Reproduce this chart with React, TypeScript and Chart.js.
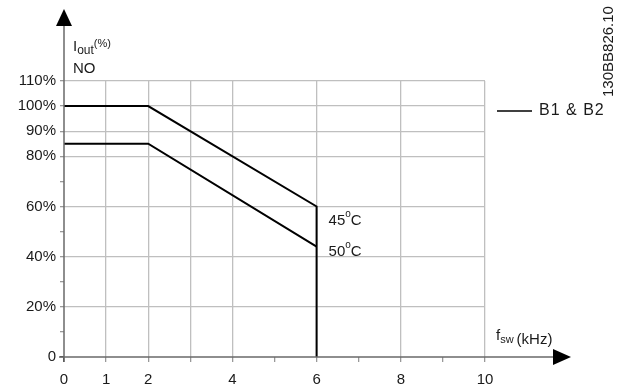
import React, { useEffect, useRef } from "react";
import { Chart, registerables } from "chart.js";

Chart.register(...registerables);

// ---- data ----
const freq45 = [0, 2, 6, 6];
const iout45 = [100, 100, 60, 0];
const freq50 = [0, 2, 6];
const iout50 = [85, 85, 44];

const xTickValues = [0, 1, 2, 3, 4, 5, 6, 7, 8, 9, 10];
const xTickLabels = ["0", "1", "2", "", "4", "", "6", "", "8", "", "10"];
const xGridValues = [1, 2, 3, 4, 6, 8, 10];

const yTickValues = [0, 10, 20, 30, 40, 50, 60, 70, 80, 90, 100, 110];
const yTickLabels = ["0", "", "20%", "", "40%", "", "60%", "", "80%", "90%", "100%", "110%"];
const yGridValues = [20, 40, 60, 80, 90, 100, 110];

const tempLabels = ["45", "50"];
const tempLabelAt = [55, 42.5];
const legendText = "B1 & B2";
const docId = "130BB826.10";

const FONT = "'Liberation Sans', Arial, sans-serif";
const TEXT = "#1a1a1a";
const GRID = "#bfbfbf";
const AXIS = "#6a6a6a";

const overlay = {
  id: "overlay",
  afterDraw(chart: any) {
    const { ctx, scales } = chart;
    const xs = scales.x;
    const ys = scales.y;
    const x0 = xs.getPixelForValue(0);
    const y0 = ys.getPixelForValue(0);
    ctx.save();
    // axes
    ctx.strokeStyle = AXIS;
    ctx.lineWidth = 1.5;
    ctx.beginPath();
    ctx.moveTo(x0, y0 + 5);
    ctx.lineTo(x0, 24);
    ctx.moveTo(x0 - 5, y0);
    ctx.lineTo(555, y0);
    ctx.stroke();
    // arrows
    ctx.fillStyle = "#000";
    ctx.beginPath();
    ctx.moveTo(x0, 9);
    ctx.lineTo(x0 - 8, 26);
    ctx.lineTo(x0 + 8, 26);
    ctx.closePath();
    ctx.fill();
    ctx.beginPath();
    ctx.moveTo(571, y0);
    ctx.lineTo(553, y0 - 8);
    ctx.lineTo(553, y0 + 8);
    ctx.closePath();
    ctx.fill();

    ctx.fillStyle = TEXT;
    ctx.textBaseline = "alphabetic";
    ctx.textAlign = "left";
    // y title
    let tx = x0 + 9;
    ctx.font = `15px ${FONT}`;
    ctx.fillText("I", tx, 51);
    tx += ctx.measureText("I").width;
    ctx.font = `12px ${FONT}`;
    ctx.fillText("out", tx, 54);
    tx += ctx.measureText("out").width;
    ctx.font = `11px ${FONT}`;
    ctx.fillText("(%)", tx, 47);
    ctx.font = `15px ${FONT}`;
    ctx.fillText("NO", x0 + 9, 73);

    // x title
    let fx = 496;
    ctx.font = `15px ${FONT}`;
    ctx.fillText("f", fx, 340);
    fx += ctx.measureText("f").width;
    ctx.font = `11px ${FONT}`;
    ctx.fillText("sw", fx, 343);
    fx += ctx.measureText("sw").width + 3;
    ctx.font = `15px ${FONT}`;
    ctx.fillText("(kHz)", fx, 344);

    // temperature labels
    const lx = xs.getPixelForValue(6) + 12;
    tempLabels.forEach((t, i) => {
      const ly = ys.getPixelForValue(tempLabelAt[i]) + 5.5;
      let px = lx;
      ctx.font = `15px ${FONT}`;
      ctx.fillText(t, px, ly);
      px += ctx.measureText(t).width;
      ctx.font = `10px ${FONT}`;
      ctx.fillText("o", px, ly - 8);
      px += ctx.measureText("o").width;
      ctx.font = `15px ${FONT}`;
      ctx.fillText("C", px, ly);
    });

    // legend
    const legY = 111;
    ctx.strokeStyle = "#000";
    ctx.lineWidth = 1.5;
    ctx.beginPath();
    ctx.moveTo(497, legY);
    ctx.lineTo(532, legY);
    ctx.stroke();
    ctx.font = `16px ${FONT}`;
    ctx.textBaseline = "middle";
    (ctx as any).letterSpacing = "1px";
    ctx.fillText(legendText, 539, legY);
    (ctx as any).letterSpacing = "0px";

    // doc id rotated
    ctx.font = `15px ${FONT}`;
    ctx.translate(609, 97);
    ctx.rotate(-Math.PI / 2);
    ctx.textBaseline = "middle";
    ctx.textAlign = "left";
    ctx.fillText(docId, 0, 0);
    ctx.restore();
  },
};

export default function App() {
  const ref = useRef<HTMLCanvasElement | null>(null);
  useEffect(() => {
    if (!ref.current) return;
    const chart = new Chart(ref.current, {
      type: "line",
      data: {
        datasets: [
          {
            label: "45",
            data: freq45.map((x, i) => ({ x, y: iout45[i] })),
            borderColor: "#000",
            borderWidth: 2,
            pointRadius: 0,
            tension: 0,
          },
          {
            label: "50",
            data: freq50.map((x, i) => ({ x, y: iout50[i] })),
            borderColor: "#000",
            borderWidth: 2,
            pointRadius: 0,
            tension: 0,
          },
        ],
      },
      options: {
        animation: false,
        responsive: false,
        maintainAspectRatio: false,
        layout: { padding: { top: 81, right: 136, left: 0, bottom: 0 } },
        plugins: { legend: { display: false }, tooltip: { enabled: false } },
        scales: {
          x: {
            type: "linear",
            min: 0,
            max: 10,
            afterBuildTicks: (s: any) => {
              s.ticks = xTickValues.map((v) => ({ value: v }));
            },
            afterFit: (s: any) => {
              s.height = 30;
            },
            border: { display: false },
            grid: {
              color: (c: any) =>
                c.tick && xGridValues.includes(c.tick.value) ? GRID : "rgba(0,0,0,0)",
              tickColor: (c: any) => (c.tick && c.tick.value === 0 ? "#333" : "#999"),
              lineWidth: 1.3,
              tickLength: 5,
              drawTicks: true,
            },
            ticks: {
              autoSkip: false,
              maxRotation: 0,
              padding: 9,
              color: TEXT,
              font: { family: FONT, size: 15 },
              callback: (v: any) => {
                const i = xTickValues.indexOf(Number(v));
                return i >= 0 ? xTickLabels[i] : "";
              },
            },
          },
          y: {
            type: "linear",
            min: 0,
            max: 110,
            afterBuildTicks: (s: any) => {
              s.ticks = yTickValues.map((v) => ({ value: v }));
            },
            afterFit: (s: any) => {
              s.width = 64;
            },
            border: { display: false },
            grid: {
              color: (c: any) =>
                c.tick && yGridValues.includes(c.tick.value) ? GRID : "rgba(0,0,0,0)",
              tickColor: (c: any) => (c.tick && c.tick.value === 0 ? "#333" : "#999"),
              lineWidth: 1.3,
              tickLength: 4,
              drawTicks: true,
            },
            ticks: {
              autoSkip: false,
              padding: 4,
              color: TEXT,
              font: { family: FONT, size: 15 },
              callback: (v: any) => {
                const i = yTickValues.indexOf(Number(v));
                return i >= 0 ? yTickLabels[i] : "";
              },
            },
          },
        },
      },
      plugins: [overlay],
    });
    return () => chart.destroy();
  }, []);
  return (
    <div style={{ position: "absolute", left: 0, top: 0, width: 621, height: 387, background: "#fff" }}>
      <canvas ref={ref} width={621} height={387} style={{ display: "block" }} />
    </div>
  );
}
